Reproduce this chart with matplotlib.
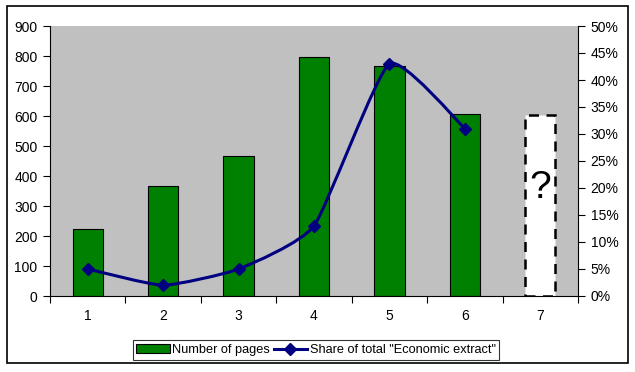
import matplotlib
matplotlib.use("Agg")
import matplotlib.pyplot as plt
import numpy as np
from matplotlib.path import Path
from matplotlib.patches import PathPatch, Rectangle, Patch
from matplotlib.lines import Line2D
from matplotlib.ticker import FuncFormatter

plt.rcParams['font.family'] = ['Liberation Sans', 'DejaVu Sans']

categories = ["1", "2", "3", "4", "5", "6", "7"]
pages = [222, 366, 466, 796, 766, 606]
unknown_pages = 602
share = [0.05, 0.02, 0.05, 0.13, 0.43, 0.31]
bar_label = "Number of pages"
line_label = 'Share of total "Economic extract"'

fig = plt.figure(figsize=(6.35, 3.72), dpi=100)
ax = fig.add_axes([50/635, 1-296/372, 528/635, 270/372])
ax.set_facecolor("#C0C0C0")

x = np.arange(1, len(categories) + 1)
ax.bar(x[:len(pages)], pages, width=0.4, color="#008000", edgecolor="black", linewidth=0.8, zorder=2)
ax.bar(x[len(pages)], unknown_pages, width=0.4, color="white", edgecolor="black",
       linewidth=1.8, linestyle=(0, (4, 3)), zorder=2)
ax.text(x[len(pages)], unknown_pages * 0.6, "?", ha="center", va="center", fontsize=28, zorder=3)

ax.set_xlim(0.5, len(categories) + 0.5)
ax.set_ylim(0, 900)
ax.set_yticks(range(0, 901, 100))
ax.set_xticks(np.arange(0.5, len(categories) + 1, 1.0))
ax.set_xticklabels([])
ax.set_xticks(x, minor=True)
ax.set_xticklabels(categories, minor=True)
ax.tick_params(axis="x", which="major", direction="out", length=5, width=0.8)
ax.tick_params(axis="x", which="minor", length=0, pad=9, labelsize=10)
ax.tick_params(axis="y", direction="out", length=5, width=0.8, labelsize=10, pad=4)
for s in ["top", "right"]:
    ax.spines[s].set_visible(False)
ax.spines["left"].set_linewidth(0.8)
ax.spines["bottom"].set_linewidth(0.8)

ax2 = ax.twinx()
ax2.set_ylim(0, 0.5)
ax2.set_yticks(np.arange(0, 0.501, 0.05))
ax2.yaxis.set_major_formatter(FuncFormatter(lambda v, p: f"{v*100:.0f}%"))
ax2.tick_params(axis="y", direction="out", length=5, width=0.8, labelsize=10, pad=4)
for s in ["top", "left", "bottom"]:
    ax2.spines[s].set_visible(False)
ax2.spines["right"].set_linewidth(0.8)

# smoothed line (mild Catmull-Rom style Bezier through the data points)
tension = 1.0 / 12.0
pts = np.column_stack([x[:len(share)], share]).astype(float)
n = len(pts)
verts = [tuple(pts[0])]
codes = [Path.MOVETO]
for i in range(n - 1):
    p0 = pts[i - 1] if i > 0 else pts[i]
    p1 = pts[i]
    p2 = pts[i + 1]
    p3 = pts[i + 2] if i + 2 < n else pts[i + 1]
    c1 = p1 + (p2 - p0) * tension
    c2 = p2 - (p3 - p1) * tension
    verts += [tuple(c1), tuple(c2), tuple(p2)]
    codes += [Path.CURVE4] * 3
ax2.add_patch(PathPatch(Path(verts, codes), facecolor="none", edgecolor="#000080", linewidth=2.2, zorder=4))
ax2.plot(pts[:, 0], pts[:, 1], linestyle="none", marker="D", markersize=6,
         color="#000080", zorder=5)

handles = [Patch(facecolor="#008000", edgecolor="black", linewidth=0.8),
           Line2D([0], [0], color="#000080", linewidth=2.2, marker="D", markersize=6)]
leg = fig.legend(handles, [bar_label, line_label], loc="center", bbox_to_anchor=(316/635, 1-350/372),
                 ncol=2, frameon=True, fancybox=False, edgecolor="black", fontsize=9.2,
                 handlelength=2.6, handletextpad=0.2, columnspacing=0.3, borderpad=0.3)
leg.get_frame().set_linewidth(0.8)

fig.patches.append(Rectangle((7/635, 9/372), 621/635, 357/372, transform=fig.transFigure,
                             fill=False, edgecolor="black", linewidth=1.2))

fig.savefig("out.png", dpi=100)
